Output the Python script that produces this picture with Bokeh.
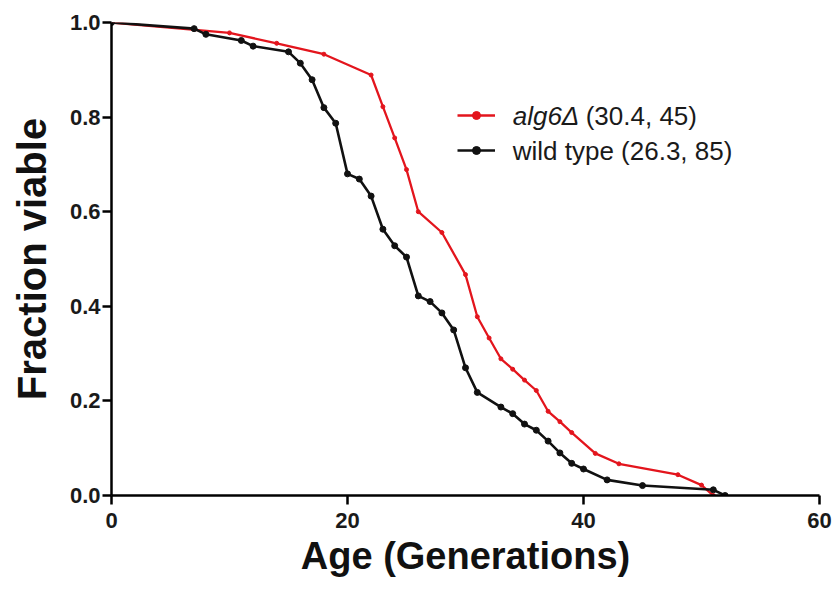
from bokeh.plotting import figure
from bokeh.models import (Range1d, FixedTicker, NumeralTickFormatter, Legend,
                          LegendItem, Label, ColumnDataSource)
from bokeh.embed import file_html
from bokeh.resources import INLINE

# Survival curves: age in generations vs fraction of cells still viable
wt_age = [0, 7, 8, 11, 12, 15, 16, 17, 18, 19, 20, 21, 22, 23, 24, 25, 26, 27,
          28, 29, 30, 31, 33, 34, 35, 36, 37, 38, 39, 40, 42, 45, 51, 52]
wt_viable = [1.0, 0.987, 0.975, 0.962, 0.950, 0.938, 0.914, 0.879, 0.820, 0.787,
             0.680, 0.669, 0.633, 0.563, 0.528, 0.504, 0.422, 0.410, 0.386, 0.350,
             0.270, 0.218, 0.187, 0.173, 0.151, 0.138, 0.115, 0.090, 0.068, 0.056,
             0.033, 0.021, 0.012, 0.0]

alg6_age = [0, 10, 14, 18, 22, 23, 24, 25, 26, 28, 30, 31, 32, 33, 34, 35, 36,
            37, 38, 39, 41, 43, 48, 50, 51]
alg6_viable = [1.0, 0.978, 0.956, 0.933, 0.889, 0.822, 0.756, 0.689, 0.600, 0.556,
               0.467, 0.378, 0.333, 0.289, 0.267, 0.244, 0.222, 0.178, 0.156, 0.133,
               0.089, 0.067, 0.044, 0.022, 0.0]

x_ticks = [0, 20, 40, 60]
y_ticks = [0.0, 0.2, 0.4, 0.6, 0.8, 1.0]

alg6_name = "alg6\u0394"
alg6_stats = "(30.4, 45)"
wt_label = "wild type (26.3, 85)"

FONT = "Liberation Sans"
RED = "#e3151d"
BLACK = "#111111"

p = figure(width=838, height=591, output_backend="svg", toolbar_location=None,
           x_range=Range1d(0, 60), y_range=Range1d(0, 1.0),
           min_border_left=111, min_border_right=19, min_border_top=22,
           min_border_bottom=96)
p.outline_line_color = None
p.xgrid.visible = False
p.ygrid.visible = False
p.background_fill_color = "white"
p.border_fill_color = "white"

wt_src = ColumnDataSource(dict(x=wt_age, y=wt_viable))
alg_src = ColumnDataSource(dict(x=alg6_age, y=alg6_viable))

alg_line = p.line("x", "y", source=alg_src, line_color=RED, line_width=2.3)
alg_pts = p.scatter("x", "y", source=alg_src, size=4, marker="circle",
                    fill_color=RED, line_color=RED)
wt_line = p.line("x", "y", source=wt_src, line_color=BLACK, line_width=2.6)
wt_pts = p.scatter("x", "y", source=wt_src, size=6, marker="circle",
                   fill_color=BLACK, line_color=BLACK)

for ax in (p.xaxis[0], p.yaxis[0]):
    ax.axis_line_width = 2.5
    ax.axis_line_color = "black"
    ax.major_tick_line_width = 2.5
    ax.major_tick_line_color = "black"
    ax.major_tick_out = 9
    ax.major_tick_in = 0
    ax.minor_tick_out = 0
    ax.minor_tick_in = 0
    ax.major_label_text_font = FONT
    ax.major_label_text_font_style = "bold"
    ax.major_label_text_font_size = "22px"
    ax.major_label_text_color = "#1a1a1a"
    ax.axis_label_text_font = FONT
    ax.axis_label_text_font_style = "bold"
    ax.axis_label_text_color = "#111111"

p.xaxis.axis_label_text_font_size = "38px"
p.yaxis.axis_label_text_font_size = "40px"
p.xaxis.ticker = FixedTicker(ticks=x_ticks)
p.yaxis.ticker = FixedTicker(ticks=y_ticks)
p.yaxis.formatter = NumeralTickFormatter(format="0.0")
p.xaxis.axis_label = "Age (Generations)"
p.yaxis.axis_label = "Fraction viable"
p.xaxis.major_label_standoff = 8
p.yaxis.major_label_standoff = 2
p.xaxis.axis_label_standoff = 4
p.yaxis.axis_label_standoff = 13

# Legend keys (line + marker); the texts are drawn as labels beside them
legend = Legend(items=[LegendItem(label=" ", renderers=[alg_line, alg_pts]),
                       LegendItem(label=" ", renderers=[wt_line, wt_pts])],
                location=(346, 335), glyph_width=38, glyph_height=20,
                label_height=20, label_width=0, spacing=15, padding=0,
                margin=0, border_line_color=None, background_fill_alpha=0,
                label_text_font_size="1px")
p.add_layout(legend)

text_x = 34.0
row1_y = 0.803
row2_y = 0.729
common = dict(text_font=FONT, text_font_size="26px", text_color="#1a1a1a",
              text_baseline="middle", text_align="left")
p.add_layout(Label(x=text_x, y=row1_y, text=alg6_name,
                   text_font_style="italic", **common))
p.add_layout(Label(x=text_x, y=row1_y, x_offset=73, text=alg6_stats, **common))
p.add_layout(Label(x=text_x, y=row2_y, text=wt_label, **common))

open("out.html", "w").write(file_html(p, INLINE))
